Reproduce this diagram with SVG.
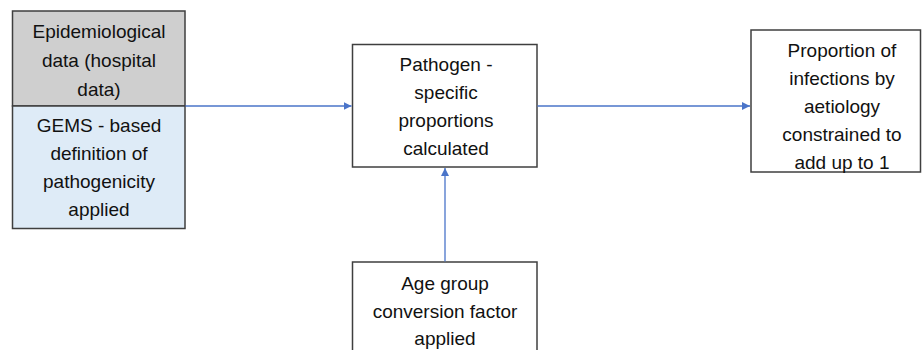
<svg xmlns="http://www.w3.org/2000/svg" width="922" height="350" viewBox="0 0 922 350">
<defs>
<style>
.box{stroke:#3f3f3f;stroke-width:1.5}
.t{font-family:"Liberation Sans",Arial,sans-serif;font-size:19px;fill:#111;text-anchor:middle}
.c{stroke:#4a74c9;stroke-width:1.3;fill:none}
</style>
<marker id="ah" viewBox="0 0 10 10" refX="10" refY="5" markerWidth="8" markerHeight="8" markerUnits="userSpaceOnUse" orient="auto">
<path d="M0,0 L10,5 L0,10 z" fill="#4a74c9"/>
</marker>
</defs>
<rect width="922" height="350" fill="#fff"/>
<g id="n-epi">
<rect class="box" x="12.5" y="11" width="172.5" height="95" fill="#cfcfcf"/>
<text class="t" x="99" y="38">Epidemiological</text>
<text class="t" x="99" y="67">data (hospital</text>
<text class="t" x="99" y="96">data)</text>
</g>
<g id="n-gems">
<rect class="box" x="12.5" y="106" width="172.5" height="122.5" fill="#deebf7"/>
<text class="t" x="99" y="132">GEMS - based</text>
<text class="t" x="99" y="160">definition of</text>
<text class="t" x="99" y="188">pathogenicity</text>
<text class="t" x="99" y="216">applied</text>
</g>
<g id="n-path">
<rect class="box" x="352.5" y="44.5" width="184.5" height="122.5" fill="#fff"/>
<text class="t" x="446" y="71">Pathogen -</text>
<text class="t" x="446" y="99">specific</text>
<text class="t" x="446" y="127">proportions</text>
<text class="t" x="446" y="155">calculated</text>
</g>
<g id="n-prop">
<rect class="box" x="751" y="30" width="169.5" height="142" fill="#fff"/>
<text class="t" x="842" y="57">Proportion of</text>
<text class="t" x="842" y="85">infections by</text>
<text class="t" x="842" y="113">aetiology</text>
<text class="t" x="842" y="141">constrained to</text>
<text class="t" x="842" y="169">add up to 1</text>
</g>
<g id="n-age">
<rect class="box" x="352.5" y="262" width="184.5" height="100" fill="#fff"/>
<text class="t" x="445" y="290">Age group</text>
<text class="t" x="445" y="318">conversion factor</text>
<text class="t" x="445" y="345">applied</text>
</g>
<g id="connectors">
<line class="c" x1="185.5" y1="106" x2="351.5" y2="106" marker-end="url(#ah)"/>
<line class="c" x1="537.5" y1="106" x2="750" y2="106" marker-end="url(#ah)"/>
<line class="c" x1="445" y1="261.5" x2="445" y2="168" marker-end="url(#ah)"/>
</g>
</svg>
